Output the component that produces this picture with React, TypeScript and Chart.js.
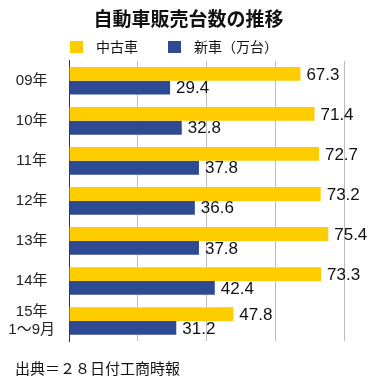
import React, { useEffect, useRef } from "react";
import { Chart, registerables } from "chart.js";

Chart.register(...registerables);

const titleText = "自動車販売台数の推移";
const sourceText = "出典＝２８日付工商時報";
const categories: (string | string[])[] = ["09年", "10年", "11年", "12年", "13年", "14年", ["15年", "1～9月"]];
const seriesNames = ["中古車", "新車（万台）"];
const usedCars = [67.3, 71.4, 72.7, 73.2, 75.4, 73.3, 47.8];
const newCars = [29.4, 32.8, 37.8, 36.6, 37.8, 42.4, 31.2];
const xTickValues = [0, 20, 40, 60, 80];

const YELLOW = "#FFCC00";
const BLUE = "#2D4A93";
const LATIN = '"Liberation Sans", "Noto Sans CJK JP", sans-serif';
const CJK = '"Noto Sans CJK JP", "Liberation Sans", sans-serif';

const legendPlugin = {
  id: "customLegend",
  afterDraw(chart: any) {
    const ctx = chart.ctx;
    ctx.save();
    ctx.font = "14px " + CJK;
    ctx.textBaseline = "middle";
    ctx.textAlign = "left";
    let x = chart.chartArea.left + 1;
    const y = 47;
    chart.data.datasets.forEach((ds: any) => {
      ctx.fillStyle = ds.backgroundColor;
      ctx.fillRect(x, y - 6, 13, 12);
      x += 13 + 13;
      ctx.fillStyle = "#111";
      ctx.fillText(ds.label, x, y);
      x += ctx.measureText(ds.label).width + 30;
    });
    ctx.restore();
  },
};

const sourcePlugin = {
  id: "sourceNote",
  afterDraw(chart: any) {
    const ctx = chart.ctx;
    ctx.save();
    ctx.font = "15px " + CJK;
    ctx.fillStyle = "#111";
    ctx.textBaseline = "middle";
    ctx.textAlign = "left";
    ctx.fillText(sourceText, 15, chart.chartArea.bottom + 27);
    ctx.restore();
  },
};

const valueLabelPlugin = {
  id: "valueLabels",
  afterDatasetsDraw(chart: any) {
    const ctx = chart.ctx;
    ctx.save();
    ctx.font = "17px " + LATIN;
    ctx.fillStyle = "#111";
    ctx.textBaseline = "middle";
    ctx.textAlign = "left";
    chart.data.datasets.forEach((ds: any, di: number) => {
      const meta = chart.getDatasetMeta(di);
      meta.data.forEach((el: any, i: number) => {
        const v = ds.data[i] as number;
        ctx.fillText(v.toFixed(1), el.x + 6, el.y + 1);
      });
    });
    ctx.restore();
  },
};

export default function App() {
  const ref = useRef<HTMLCanvasElement | null>(null);
  useEffect(() => {
    if (!ref.current) return;
    const chart = new Chart(ref.current, {
      type: "bar",
      data: {
        labels: categories,
        datasets: [
          { label: seriesNames[0], data: usedCars, backgroundColor: YELLOW, borderWidth: 0 },
          { label: seriesNames[1], data: newCars, backgroundColor: BLUE, borderWidth: 0 },
        ],
      },
      options: {
        indexAxis: "y",
        responsive: false,
        animation: false,
        devicePixelRatio: 1,
        layout: { padding: { left: 2, right: 4, top: 0, bottom: 42 } },
        datasets: { bar: { categoryPercentage: 0.69, barPercentage: 1 } },
        scales: {
          x: {
            min: 0,
            max: 89,
            afterBuildTicks: (s: any) => {
              s.ticks = xTickValues.map((v) => ({ value: v }));
            },
            afterFit: (s: any) => {
              s.height = 0;
            },
            ticks: { display: false, includeBounds: false },
            border: { display: false },
            grid: {
              drawTicks: false,
              color: (c: any) => (c.tick && c.tick.value === 0 ? "rgba(0,0,0,0)" : "#BDBDBD"),
              lineWidth: 1,
            },
          },
          y: {
            afterFit: (s: any) => {
              s.width = 67;
            },
            grid: { display: false, drawTicks: false },
            border: { display: true, color: "#333", width: 1 },
            ticks: {
              crossAlign: "center",
              padding: 14,
              color: "#222",
              font: { size: 15, family: LATIN },
            },
          },
        },
        plugins: {
          legend: { display: false },
          tooltip: { enabled: false },
          title: {
            display: true,
            text: titleText,
            color: "#111",
            font: { size: 19, weight: "bold", family: CJK },
            padding: { top: 7, bottom: 31 },
          },
        },
      },
      plugins: [legendPlugin, valueLabelPlugin, sourcePlugin],
    } as any);
    return () => chart.destroy();
  }, []);
  return (
    <div style={{ position: "absolute", left: 0, top: 0, width: 379, height: 383, background: "#fff" }}>
      <canvas ref={ref} width={379} height={383} />
    </div>
  );
}
